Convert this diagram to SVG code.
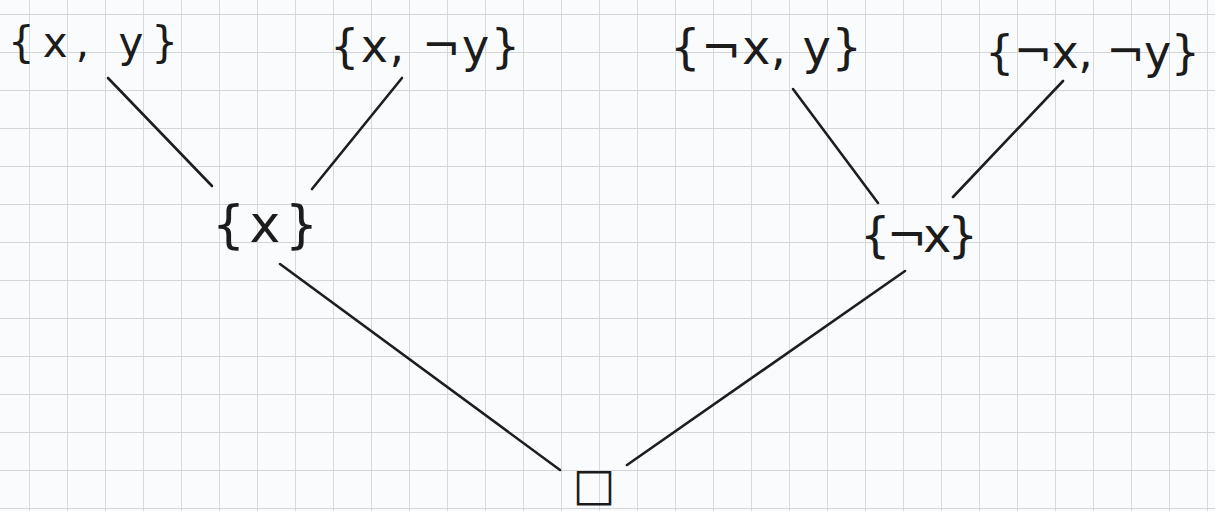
<svg xmlns="http://www.w3.org/2000/svg" width="1215" height="511" viewBox="0 0 1215 511">
  <style>
    .lbl { font-family: "DejaVu Sans", "Liberation Sans", sans-serif; fill: #1c1c1c; }
    .edge { stroke: #1e1e1e; stroke-width: 2.6; stroke-linecap: round; fill: none; }
  </style>
  <defs>
    <pattern id="grid" x="29" y="14" width="38" height="38" patternUnits="userSpaceOnUse">
      <path d="M0 0 H38 M0 0 V38" stroke="#d3d5d9" stroke-width="1.8" fill="none"/>
    </pattern>
  </defs>
  <rect width="1215" height="511" fill="#fafbfd"/>
  <rect width="1215" height="511" fill="url(#grid)"/>

  <g id="connectors">
    <line class="edge" x1="108" y1="78" x2="212" y2="186"/>
    <line class="edge" x1="402" y1="78" x2="312" y2="189"/>
    <line class="edge" x1="280" y1="264" x2="560" y2="470"/>
    <line class="edge" x1="905" y1="271" x2="627" y2="465"/>
    <line class="edge" x1="793" y1="89" x2="878" y2="203"/>
    <line class="edge" x1="1063" y1="81" x2="953" y2="197"/>
  </g>

  <g id="n-xy"><text class="lbl" x="8" y="57" font-size="42" textLength="170" lengthAdjust="spacing">{x, y}</text></g>
  <g id="n-xny"><text class="lbl" x="330" y="62" font-size="46" textLength="190" lengthAdjust="spacing">{x, ¬y}</text></g>
  <g id="n-nxy"><text class="lbl" x="670" y="64" font-size="48" textLength="192" lengthAdjust="spacing">{¬x, y}</text></g>
  <g id="n-nxny"><text class="lbl" x="985" y="68" font-size="46" textLength="215" lengthAdjust="spacing">{¬x, ¬y}</text></g>
  <g id="n-x"><text class="lbl" x="212" y="242" font-size="52" textLength="106" lengthAdjust="spacing">{x}</text></g>
  <g id="n-nx"><text class="lbl" x="860" y="252" font-size="48" textLength="118" lengthAdjust="spacing">{¬x}</text></g>
  <g id="n-empty"><text class="lbl" x="594" y="500" font-size="45" text-anchor="middle">□</text></g>
</svg>
